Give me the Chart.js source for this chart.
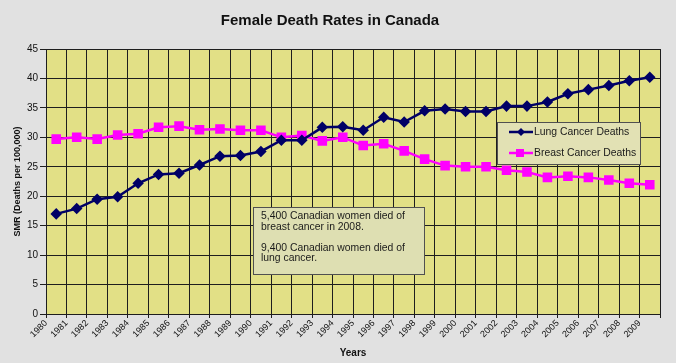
<!DOCTYPE html>
<html>
<head>
<meta charset="utf-8">
<script src="https://cdn.jsdelivr.net/npm/chart.js@4/dist/chart.umd.min.js"></script>
<style>
html,body{margin:0;padding:0;background:#e1e1e1;}
#wrap{position:relative;width:676px;height:363px;}
</style>
</head>
<body>
<div id="wrap"><canvas id="c" width="676" height="363"></canvas></div>
<script>
const years = [1980,1981,1982,1983,1984,1985,1986,1987,1988,1989,1990,1991,1992,1993,1994,1995,1996,1997,1998,1999,2000,2001,2002,2003,2004,2005,2006,2007,2008,2009];
const lungCancer = [17.0,17.9,19.5,19.9,22.2,23.7,23.9,25.3,26.8,26.9,27.6,29.5,29.5,31.7,31.8,31.2,33.4,32.6,34.5,34.8,34.4,34.4,35.3,35.3,36.0,37.4,38.1,38.8,39.6,40.2];
const breastCancer = [29.7,30.0,29.7,30.4,30.6,31.7,31.9,31.3,31.4,31.2,31.2,30.0,30.3,29.4,30.0,28.6,28.9,27.7,26.3,25.2,25.0,25.0,24.4,24.1,23.2,23.4,23.2,22.75,22.2,21.95];
const yTicks = [0,5,10,15,20,25,30,35,40,45];
const seriesNames = ["Lung Cancer Deaths","Breast Cancer Deaths"];
const noteLines = ["5,400 Canadian women died of","breast cancer in 2008.","","9,400 Canadian women died of","lung cancer."];

const FONT = "'Liberation Sans', Arial, sans-serif";
const toPts = arr => arr.map((v,i)=>({x:i+0.5,y:v}));

const bgPlugin = {
  id:'bg',
  beforeDraw(chart){
    const {ctx, chartArea:a} = chart;
    ctx.save();
    ctx.fillStyle = '#e2e086';
    ctx.fillRect(a.left, a.top, a.right-a.left, a.bottom-a.top);
    ctx.restore();
  }
};

const boxPlugin = {
  id:'boxes',
  afterDraw(chart){
    const ctx = chart.ctx;
    ctx.save();
    // legend box
    ctx.fillStyle = '#e2e1b4';
    ctx.strokeStyle = '#505050';
    ctx.lineWidth = 1;
    ctx.fillRect(497,122,143,42);
    ctx.strokeRect(497.5,122.5,143,42);
    ctx.font = '10.4px ' + FONT;
    ctx.textBaseline = 'middle';
    const ds = chart.data.datasets;
    const rows = [132,153];
    ds.forEach((d,i)=>{
      const y = rows[i];
      ctx.strokeStyle = d.borderColor;
      ctx.lineWidth = 2.5;
      ctx.beginPath(); ctx.moveTo(509,y); ctx.lineTo(533,y); ctx.stroke();
      ctx.fillStyle = d.borderColor;
      if (d.pointStyle === 'rect') {
        ctx.fillRect(516,y-4,8,8);
      } else {
        ctx.beginPath(); ctx.moveTo(521,y-4); ctx.lineTo(525,y); ctx.lineTo(521,y+4); ctx.lineTo(517,y); ctx.closePath(); ctx.fill();
      }
      ctx.fillStyle = '#1a1a1a';
      ctx.textAlign = 'left';
      ctx.fillText(d.label, 534, y);
    });
    // note box
    ctx.fillStyle = '#dedfb2';
    ctx.strokeStyle = '#505050';
    ctx.lineWidth = 1;
    ctx.fillRect(253,207,171,67);
    ctx.strokeRect(253.5,207.5,171,67);
    ctx.fillStyle = '#1a1a1a';
    ctx.font = '10.4px ' + FONT;
    const ly = [216,227,238,248,258];
    noteLines.forEach((t,i)=>{ if(t) ctx.fillText(t, 261, ly[i]); });
    ctx.restore();
  }
};

new Chart(document.getElementById('c'), {
  type:'line',
  data:{
    datasets:[
      {label:seriesNames[0], data:toPts(lungCancer), borderColor:'#000066', backgroundColor:'#000066',
       borderWidth:2.5, pointStyle:'rectRot', pointRadius:4, pointHoverRadius:4, tension:0},
      {label:seriesNames[1], data:toPts(breastCancer), borderColor:'#ff00ff', backgroundColor:'#ff00ff',
       borderWidth:2.5, pointStyle:'rect', pointRadius:5, pointHoverRadius:5, tension:0}
    ]
  },
  options:{
    responsive:false,
    animation:false,
    layout:{padding:{top:0,right:16,left:0,bottom:0}},
    plugins:{
      legend:{display:false},
      tooltip:{enabled:false},
      title:{display:true, text:'Female Death Rates in Canada', color:'#111',
        font:{family:FONT, size:15, weight:'bold'}, padding:{top:12,bottom:19}}
    },
    scales:{
      x:{
        type:'linear', min:0, max:years.length,
        afterFit(s){ s.height = 49; },
        afterBuildTicks(s){ s.ticks = years.concat([years[years.length-1]+1]).map((y,i)=>({value:i})); },
        ticks:{ autoSkip:false, maxRotation:45, minRotation:45, padding:0, color:'#111',
          font:{family:FONT, size:9},
          callback:(v)=> v < years.length ? String(years[v]) : '' },
        grid:{ color:'#1e1e1e', lineWidth:1, tickLength:4, drawTicks:true },
        border:{ color:'#1e1e1e' },
        title:{ display:true, text:'Years', color:'#111', font:{family:FONT, size:10, weight:'bold'}, padding:{top:0,bottom:4} }
      },
      y:{
        min:0, max:45,
        afterFit(s){ s.width = 46; },
        afterBuildTicks(s){ s.ticks = yTicks.map(v=>({value:v})); },
        ticks:{ padding:2, color:'#111', font:{family:FONT, size:10} },
        grid:{ color:'#1e1e1e', lineWidth:1, tickLength:6 },
        border:{ color:'#1e1e1e' },
        title:{ display:true, text:'SMR (Deaths per 100,000)', color:'#111', font:{family:FONT, size:9, weight:'bold'}, padding:{top:12,bottom:0} }
      }
    }
  },
  plugins:[bgPlugin, boxPlugin]
});
</script>
</body>
</html>
